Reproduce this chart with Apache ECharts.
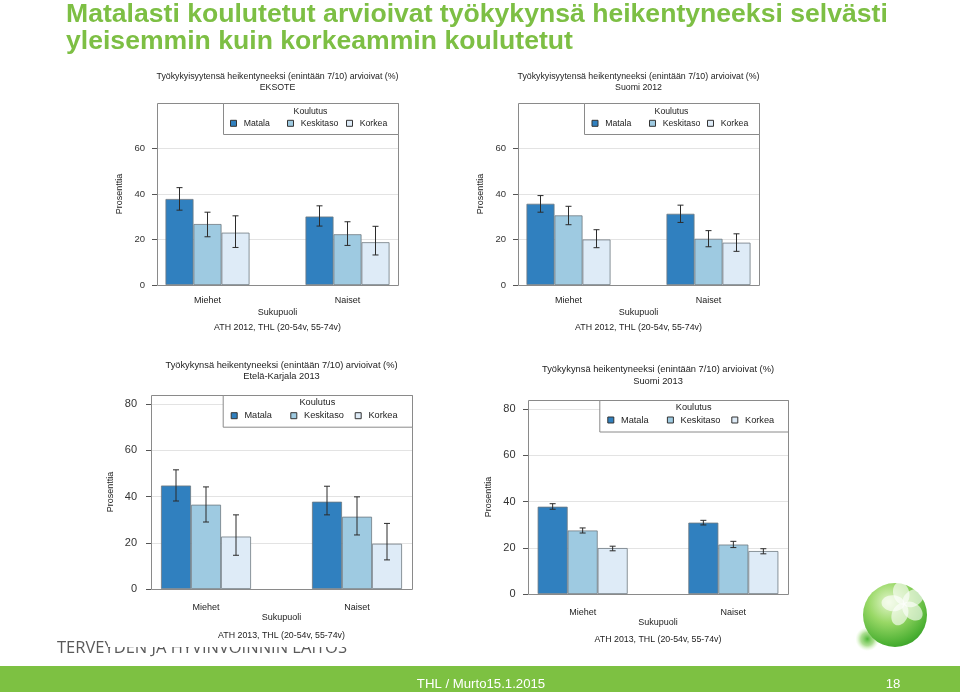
<!DOCTYPE html>
<html><head><meta charset="utf-8">
<script src="https://cdn.jsdelivr.net/npm/echarts@6/dist/echarts.min.js"></script>
<style>html,body{margin:0;padding:0;background:#fff}#c{width:960px;height:692px}</style>
</head><body><div id="c"></div>
<script>
// ---------------- DATA ----------------
const categories = ['Miehet', 'Naiset'];
const educationLevels = ['Matala', 'Keskitaso', 'Korkea'];
const yTicks2012 = [0, 20, 40, 60];
const yTicks2013 = [0, 20, 40, 60, 80];

// rows: Matala, Keskitaso, Korkea ; columns: Miehet, Naiset
const eksote2012 = [[37.8, 30.1], [26.8, 22.3], [23.0, 18.8]];
const eksote2012Low = [[32.9, 25.9], [21.2, 17.4], [16.5, 13.2]];
const eksote2012High = [[42.8, 34.8], [32.0, 27.8], [30.4, 25.8]];

const suomi2012 = [[35.7, 31.3], [30.6, 20.3], [20.0, 18.6]];
const suomi2012Low = [[32.0, 27.5], [26.5, 16.8], [16.4, 14.8]];
const suomi2012High = [[39.3, 35.1], [34.6, 23.9], [24.3, 22.5]];

const karjala2013 = [[44.8, 37.8], [36.5, 31.3], [22.7, 19.6]];
const karjala2013Low = [[38.1, 32.1], [29.0, 23.4], [14.6, 12.6]];
const karjala2013High = [[51.6, 44.5], [44.2, 39.9], [32.1, 28.4]];

const suomi2013 = [[37.8, 30.9], [27.5, 21.4], [19.9, 18.6]];
const suomi2013Low = [[36.7, 29.9], [26.4, 20.1], [18.7, 17.4]];
const suomi2013High = [[39.1, 31.9], [28.6, 22.8], [20.7, 19.6]];

const titleA = 'Työkykyisyytensä heikentyneeksi (enintään 7/10) arvioivat (%)';
const titleB = 'Työkykynsä heikentyneeksi (enintään 7/10) arvioivat (%)';
const source2012 = 'ATH 2012, THL (20-54v, 55-74v)';
const source2013 = 'ATH 2013, THL (20-54v, 55-74v)';
const mainTitle1 = 'Matalasti koulutetut arvioivat työkykynsä heikentyneeksi selvästi';
const mainTitle2 = 'yleisemmin kuin korkeammin koulutetut';

// ---------------- LAYOUT ----------------
const FONT = '"Liberation Sans", Arial, sans-serif';
const NARROW = '"Liberation Sans Narrow", "Arial Narrow", sans-serif';
const colors = ['#3080bf', '#9ecae1', '#deebf7'];
const TXT = '#222';

const panels = [
  { title: titleA + '\nEKSOTE', source: source2012, values: eksote2012, low: eksote2012Low, high: eksote2012High,
    ticks: yTicks2012, yMax: 80, frame: {l: 157, t: 103, w: 241, h: 182}, band: 140, barW: 28,
    titleTop: 71.5, titleLH: 11, titleFs: 8.8, legendBox: {x: 223, y: 103, w: 175, h: 31}, koulY: 112, rowY: 124.3,
    legendX: [230, 287, 346], legFs: 8.7, tickFs: 9.5, tickMargin: 12, xLabMargin: 11.5, xNameGap: 23, yNameGap: 32.5, sourceY: 328 },
  { title: titleA + '\nSuomi 2012', source: source2012, values: suomi2012, low: suomi2012Low, high: suomi2012High,
    ticks: yTicks2012, yMax: 80, frame: {l: 518, t: 103, w: 241, h: 182}, band: 140, barW: 28,
    titleTop: 71.5, titleLH: 11, titleFs: 8.8, legendBox: {x: 584, y: 103, w: 175, h: 31}, koulY: 112, rowY: 124.3,
    legendX: [591.5, 649, 707], legFs: 8.7, tickFs: 9.5, tickMargin: 12, xLabMargin: 11.5, xNameGap: 23, yNameGap: 33, sourceY: 328 },
  { title: titleB + '\nEtelä-Karjala 2013', source: source2013, values: karjala2013, low: karjala2013Low, high: karjala2013High,
    ticks: yTicks2013, yMax: 84, frame: {l: 151, t: 395, w: 261, h: 194}, band: 151, barW: 30,
    titleTop: 359.3, titleLH: 11.7, titleFs: 9.3, legendBox: {x: 222.7, y: 395, w: 189.3, h: 31.7}, koulY: 402.3, rowY: 416.7,
    legendX: [230.7, 290.3, 354.7], legFs: 9.2, tickFs: 11, tickMargin: 14, xLabMargin: 14, xNameGap: 24.5, yNameGap: 35.5, sourceY: 636 },
  { title: titleB + '\nSuomi 2013', source: source2013, values: suomi2013, low: suomi2013Low, high: suomi2013High,
    ticks: yTicks2013, yMax: 84, frame: {l: 528, t: 400, w: 260, h: 194}, band: 150.7, barW: 30,
    titleTop: 364.3, titleLH: 11.2, titleFs: 9.3, legendBox: {x: 599.3, y: 400, w: 188.7, h: 31.5}, koulY: 407.3, rowY: 421,
    legendX: [607.3, 666.9, 731.3], legFs: 9.2, tickFs: 11, tickMargin: 12.5, xLabMargin: 13.8, xNameGap: 23.2, yNameGap: 35, sourceY: 639.3 }
];

const grid = [], xAxis = [], yAxis = [], series = [], legend = [], title = [], graphic = [];

panels.forEach((p, pi) => {
  const f = p.frame;
  const cx = f.l + f.w / 2;
  const fi = pi * 2, bi = pi * 2 + 1;
  grid.push({left: f.l, top: f.t, width: f.w, height: f.h, containLabel: false});
  grid.push({left: cx - p.band, top: f.t, width: 2 * p.band, height: f.h, containLabel: false});

  xAxis.push({gridIndex: fi, type: 'value', min: 0, max: 1, show: false});
  xAxis.push({gridIndex: bi, type: 'category', data: categories,
    axisLine: {show: false}, axisTick: {show: false},
    axisLabel: {margin: p.xLabMargin, fontSize: 9, color: TXT, fontFamily: FONT},
    name: 'Sukupuoli', nameLocation: 'middle', nameGap: p.xNameGap,
    nameTextStyle: {fontSize: 9, color: TXT, fontFamily: FONT}});

  yAxis.push({gridIndex: fi, type: 'value', min: 0, max: p.yMax, interval: 20,
    axisLine: {show: false},
    axisTick: {show: true, length: 5, lineStyle: {color: '#555'}, customValues: p.ticks},
    axisLabel: {fontSize: p.tickFs, color: '#333', fontFamily: FONT, margin: p.tickMargin, customValues: p.ticks,
      formatter: v => (v % 20 === 0 ? String(v) : '')},
    splitLine: {show: true, lineStyle: {color: '#e3e3e3', width: 1}},
    name: 'Prosenttia', nameLocation: 'middle', nameGap: p.yNameGap,
    nameTextStyle: {fontSize: 9, color: TXT, fontFamily: FONT}});
  yAxis.push({gridIndex: bi, type: 'value', min: 0, max: p.yMax, show: false});

  educationLevels.forEach((lvl, s) => {
    series.push({type: 'bar', name: lvl, xAxisIndex: bi, yAxisIndex: bi,
      data: p.values[s], barWidth: p.barW, barGap: '0%', z: 2, silent: true,
      itemStyle: {color: colors[s], borderColor: '#6f7880', borderWidth: 0.8}});
  });
  const errData = [];
  educationLevels.forEach((lvl, s) => {
    categories.forEach((c, ci) => errData.push([ci, s, p.low[s][ci], p.high[s][ci]]));
  });
  const bw = p.barW;
  series.push({type: 'custom', name: 'err' + pi, xAxisIndex: bi, yAxisIndex: bi, z: 5, silent: true,
    encode: {x: 0, y: [2, 3]}, data: errData,
    renderItem: (params, api) => {
      const ci = api.value(0), s = api.value(1);
      const lo = api.coord([ci, api.value(2)]);
      const hi = api.coord([ci, api.value(3)]);
      const x = lo[0] + (s - 1) * bw;
      const cap = 3;
      const st = {stroke: '#2b2b2b', lineWidth: 1};
      return {type: 'group', children: [
        {type: 'line', shape: {x1: x, y1: lo[1], x2: x, y2: hi[1]}, style: st},
        {type: 'line', shape: {x1: x - cap, y1: lo[1], x2: x + cap, y2: lo[1]}, style: st},
        {type: 'line', shape: {x1: x - cap, y1: hi[1], x2: x + cap, y2: hi[1]}, style: st}
      ]};
    }});

  educationLevels.forEach((lvl, s) => {
    legend.push({data: [lvl], left: p.legendX[s], top: p.rowY - 5.5, padding: 0, z: 20,
      itemWidth: 6, itemHeight: 6, icon: 'rect', selectedMode: false,
      itemStyle: {borderColor: '#333', borderWidth: 1},
      textStyle: {fontSize: p.legFs, color: TXT, fontFamily: FONT, padding: [0, 0, 0, 2.2]}});
  });

  title.push({text: p.title, left: cx, top: p.titleTop, textAlign: 'center', padding: 0,
    textStyle: {fontSize: p.titleFs, fontWeight: 'normal', color: TXT, fontFamily: FONT, lineHeight: p.titleLH}});

  const lb = p.legendBox;
  graphic.push({type: 'rect', z: 15, shape: {x: lb.x + 0.5, y: lb.y + 0.5, width: lb.w, height: lb.h},
    style: {fill: '#fff', stroke: '#8a8a8a', lineWidth: 1}});
  graphic.push({type: 'text', z: 16, x: lb.x + lb.w / 2, y: p.koulY,
    style: {text: 'Koulutus', fontSize: p.legFs, fontFamily: FONT, fill: TXT, align: 'center', verticalAlign: 'middle'}});
  graphic.push({type: 'rect', z: 14, shape: {x: f.l + 0.5, y: f.t + 0.5, width: f.w, height: f.h},
    style: {fill: 'none', stroke: '#8a8a8a', lineWidth: 1}});
  graphic.push({type: 'text', z: 16, x: cx, y: p.sourceY,
    style: {text: p.source, fontSize: 8.8, fontFamily: FONT, fill: TXT, align: 'center', verticalAlign: 'middle'}});
});

// slide decorations
graphic.push({type: 'text', z: 30, x: 66, y: 14.5,
  style: {text: mainTitle1, font: 'bold 26.6px ' + NARROW, fill: '#7dbf44', verticalAlign: 'middle'}});
graphic.push({type: 'text', z: 30, x: 66, y: 42,
  style: {text: mainTitle2, font: 'bold 26.6px ' + NARROW, fill: '#7dbf44', verticalAlign: 'middle'}});
graphic.push({type: 'text', z: 1, x: 57, y: 648,
  style: {text: 'TERVEYDEN JA HYVINVOINNIN LAITOS', font: '16.5px "Open Sans", sans-serif', fill: '#5a5a5a', verticalAlign: 'middle'}});
graphic.push({type: 'rect', z: 2, shape: {x: 108, y: 630, width: 300, height: 17}, style: {fill: '#fff'}});
graphic.push({type: 'rect', z: 30, shape: {x: 0, y: 666, width: 960, height: 26}, style: {fill: '#7dc142'}});
graphic.push({type: 'text', z: 31, x: 481, y: 684,
  style: {text: 'THL / Murto15.1.2015', font: '13.2px ' + NARROW, fill: '#fff', align: 'center', verticalAlign: 'middle'}});
graphic.push({type: 'text', z: 31, x: 893, y: 684,
  style: {text: '18', font: '13.2px ' + NARROW, fill: '#fff', align: 'center', verticalAlign: 'middle'}});
// logo ball
graphic.push({type: 'ellipse', z: 30, shape: {cx: 864, cy: 639, rx: 34, ry: 12},
  style: {fill: new echarts.graphic.RadialGradient(0.55, 0.5, 0.5, [{offset: 0, color: 'rgba(70,180,45,0.95)'}, {offset: 0.55, color: 'rgba(130,205,90,0.65)'}, {offset: 1, color: 'rgba(200,240,170,0)'}])}});
graphic.push({type: 'circle', z: 31, shape: {cx: 895, cy: 615, r: 32},
  style: {fill: new echarts.graphic.RadialGradient(0.4, 0.3, 0.8, [{offset: 0, color: '#e3f6cb'}, {offset: 0.4, color: '#99d866'}, {offset: 0.8, color: '#4fb235'}, {offset: 1, color: '#2f9a22'}])}});
for (let k = 0; k < 5; k++) {
  const a = 0.25 + k * 2 * Math.PI / 5;
  graphic.push({type: 'ellipse', z: 33, x: 904, y: 604, rotation: a,
    shape: {cx: 0, cy: -11, rx: 8, ry: 11.5}, style: {fill: 'rgba(255,255,255,0.62)'}});
}

const chart = echarts.init(document.getElementById('c'));
chart.setOption({
  backgroundColor: '#fff',
  animation: false,
  textStyle: {fontFamily: FONT},
  grid, xAxis, yAxis, series, legend, title, graphic
});
</script></body></html>
